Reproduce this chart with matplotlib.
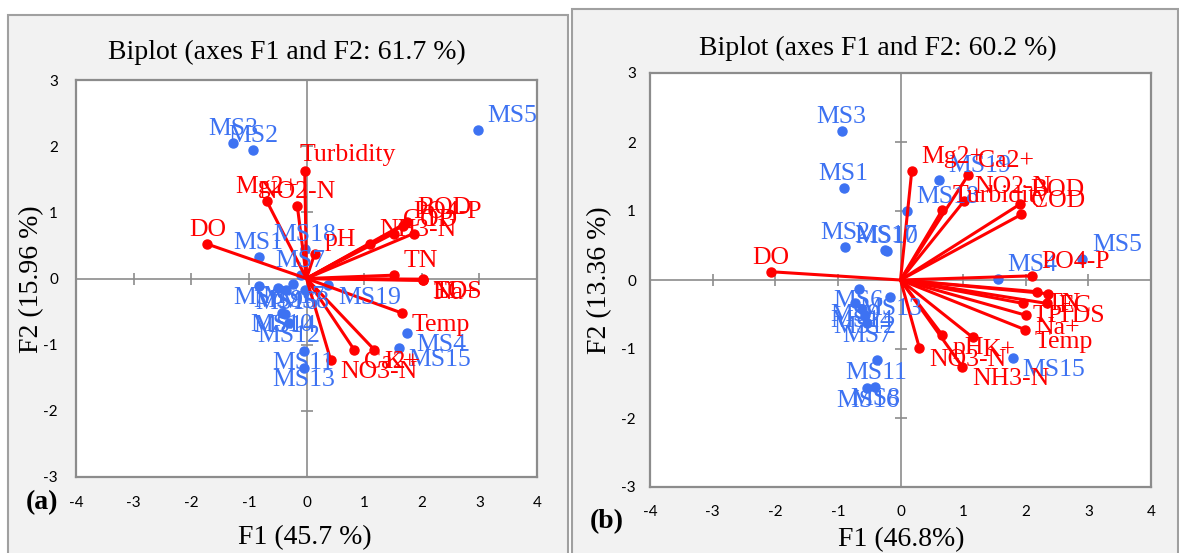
import matplotlib
matplotlib.use("Agg")
import matplotlib.pyplot as plt
from matplotlib.patches import Rectangle

# ---------------- data ----------------
obs_names = ["MS1", "MS2", "MS3", "MS4", "MS5", "MS6", "MS7", "MS8", "MS9", "MS10",
             "MS11", "MS12", "MS13", "MS14", "MS15", "MS16", "MS17", "MS18", "MS19"]

# panel (a)
obs_a_f1 = [-0.83, -0.92, -1.27, 1.74, 2.97, -0.83, -0.10, -0.03, -0.49, -0.43,
            -0.05, -0.30, -0.05, -0.38, 1.60, -0.35, -0.23, -0.03, 0.38]
obs_a_f2 = [0.32, 1.94, 2.05, -0.82, 2.24, -0.11, 0.06, -0.17, -0.15, -0.52,
            -1.09, -0.68, -1.35, -0.53, -1.05, -0.18, -0.09, 0.45, -0.10]

var_a_names = ["DO", "Turbidity", "Mg2+", "NO2-N", "pH", "NH3-N", "COD", "PO4-P", "BOD",
               "TP", "TN", "TDS", "Na+", "EC", "Temp", "Ca2+", "K+", "NO3-N"]
var_a_f1 = [-1.72, -0.03, -0.69, -0.16, 0.14, 1.10, 1.51, 1.68, 1.75,
            1.86, 1.51, 2.03, 2.03, 2.02, 1.65, 0.83, 1.18, 0.42]
var_a_f2 = [0.52, 1.62, 1.17, 1.10, 0.37, 0.52, 0.68, 0.80, 0.85,
            0.68, 0.05, -0.02, -0.03, -0.01, -0.52, -1.08, -1.08, -1.23]

# panel (b)
obs_b_f1 = [-0.91, -0.88, -0.94, 1.55, 2.90, -0.67, -0.53, -0.41, -0.73, -0.22,
            -0.38, -0.57, -0.16, -0.62, 1.79, -0.53, -0.24, 0.10, 0.61]
obs_b_f2 = [1.34, 0.48, 2.16, 0.02, 0.31, -0.13, -0.63, -1.55, -0.33, 0.42,
            -1.16, -0.50, -0.24, -0.42, -1.13, -1.57, 0.44, 1.00, 1.45]

var_b_names = ["DO", "Mg2+", "Ca2+", "NO2-N", "Turbidity", "BOD", "COD", "PO4-P", "TN",
               "EC", "TP", "TDS", "Na+", "Temp", "pH", "K+", "NO3-N", "NH3-N"]
var_b_f1 = [-2.07, 0.18, 1.08, 1.02, 0.67, 1.91, 1.93, 2.10, 2.18,
            2.36, 1.96, 2.34, 2.00, 1.99, 0.67, 1.15, 0.30, 0.99]
var_b_f2 = [0.12, 1.58, 1.52, 1.15, 1.02, 1.10, 0.95, 0.06, -0.17,
            -0.20, -0.34, -0.34, -0.51, -0.72, -0.80, -0.83, -0.98, -1.26]

titles = ["Biplot (axes F1 and F2: 61.7 %)", "Biplot (axes F1 and F2: 60.2 %)"]
xlabels = ["F1 (45.7 %)", "F1 (46.8%)"]
ylabels = ["F2 (15.96 %)", "F2 (13.36 %)"]
panel_tags = ["(a)", "(b)"]
xticks = [-4, -3, -2, -1, 0, 1, 2, 3, 4]
yticks = [-3, -2, -1, 0, 1, 2, 3]

# ---------------- style ----------------
W, H = 1179, 553
BLUE = "#3d72f2"
RED = "#ff0000"
GRAY = "#8c8c8c"
PANEL = "#f2f2f2"
SERIF = ["Liberation Serif", "DejaVu Serif"]
TICKFONT = ["Lato", "DejaVu Sans"]
LABEL_FS = 18.5
BIG_FS = 20

# label placement overrides (panel index, label) -> (dx, dy, ha) in points
LABEL_OVERRIDE = {(0, "Turbidity"): (-4, 12, "left")}

fig = plt.figure(figsize=(W / 100, H / 100), dpi=100, facecolor="white")

# panel backgrounds (pixel boxes)
for (x0, y0, x1) in [(8, 15, 568), (572, 9, 1178)]:
    fig.patches.append(Rectangle((x0 / W, -0.02), (x1 - x0) / W, 1 - y0 / H + 0.02,
                                 transform=fig.transFigure, facecolor=PANEL,
                                 edgecolor="#a0a0a0", linewidth=1.5, zorder=-10))


def px_axes(l, t, r, b):
    a = fig.add_axes([l / W, 1 - b / H, (r - l) / W, (b - t) / H])
    a.set_zorder(5)
    return a


axes = [px_axes(76, 80, 537, 477), px_axes(650, 73, 1151, 487)]
xpads = [14, 13]
ypads = [13, 10]


def label(ax, idx, x, y, txt, color):
    dx = 7 if x > 0 else 0
    ha = "left" if x > 0 else "center"
    dy = 10 if y >= 0 else -9
    if (idx, txt) in LABEL_OVERRIDE:
        dx, dy, ha = LABEL_OVERRIDE[(idx, txt)]
    ax.annotate(txt, (x, y), xytext=(dx, dy), textcoords="offset points",
                ha=ha, va="center", fontsize=LABEL_FS, color=color,
                family=SERIF, zorder=5)


panels = [
    (obs_a_f1, obs_a_f2, var_a_names, var_a_f1, var_a_f2),
    (obs_b_f1, obs_b_f2, var_b_names, var_b_f1, var_b_f2),
]

for i, ax in enumerate(axes):
    of1, of2, vn, vf1, vf2 = panels[i]
    ax.set_xlim(-4, 4)
    ax.set_ylim(-3, 3)
    ax.set_facecolor("white")
    for s in ax.spines.values():
        s.set_color(GRAY)
        s.set_linewidth(1.6)
    ax.set_xticks(xticks)
    ax.set_yticks(yticks)
    ax.set_xticklabels([str(t) for t in xticks], family=TICKFONT, fontsize=11)
    ax.set_yticklabels([str(t) for t in yticks], family=TICKFONT, fontsize=11)
    ax.tick_params(axis="x", length=0, pad=xpads[i])
    ax.tick_params(axis="y", length=0, pad=ypads[i])
    # centre axes with cross ticks
    ax.axhline(0, color=GRAY, lw=1.2, zorder=1)
    ax.axvline(0, color=GRAY, lw=1.2, zorder=1)
    ax.plot(xticks, [0] * len(xticks), linestyle="none", marker="|",
            markersize=9, color=GRAY, markeredgewidth=1.2, zorder=1, clip_on=False)
    ax.plot([0] * len(yticks), yticks, linestyle="none", marker="_",
            markersize=9, color=GRAY, markeredgewidth=1.2, zorder=1, clip_on=False)

    # observations
    ax.plot(of1, of2, linestyle="none", marker="o", markersize=6.5,
            color=BLUE, zorder=2)
    for n, x, y in zip(obs_names, of1, of2):
        label(ax, i, x, y, n, BLUE)

    # variables
    for n, x, y in zip(vn, vf1, vf2):
        ax.plot([0, x], [0, y], color=RED, lw=2.2, zorder=3,
                solid_capstyle="round")
    ax.plot(vf1, vf2, linestyle="none", marker="o", markersize=6.5,
            color=RED, zorder=3)
    for n, x, y in zip(vn, vf1, vf2):
        label(ax, i, x, y, n, RED)

# titles and axis labels (figure coordinates from pixel positions)
fig.text(287 / W, 1 - 52 / H, titles[0], ha="center", va="center",
         fontsize=BIG_FS, family=SERIF)
fig.text(878 / W, 1 - 48 / H, titles[1], ha="center", va="center",
         fontsize=BIG_FS, family=SERIF)
fig.text(305 / W, 1 - 538 / H, xlabels[0], ha="center", va="center",
         fontsize=BIG_FS, family=SERIF)
fig.text(901 / W, 1 - 540 / H, xlabels[1], ha="center", va="center",
         fontsize=BIG_FS, family=SERIF)
fig.text(32 / W, 1 - 279 / H, ylabels[0], ha="center", va="center",
         rotation=90, fontsize=BIG_FS, family=SERIF)
fig.text(600 / W, 1 - 280 / H, ylabels[1], ha="center", va="center",
         rotation=90, fontsize=BIG_FS, family=SERIF)
fig.text(42 / W, 1 - 503 / H, panel_tags[0], ha="center", va="center",
         fontsize=BIG_FS, family=SERIF, fontweight="bold")
fig.text(607 / W, 1 - 522 / H, panel_tags[1], ha="center", va="center",
         fontsize=BIG_FS, family=SERIF, fontweight="bold")

fig.savefig("out.png", dpi=100, facecolor="white")
